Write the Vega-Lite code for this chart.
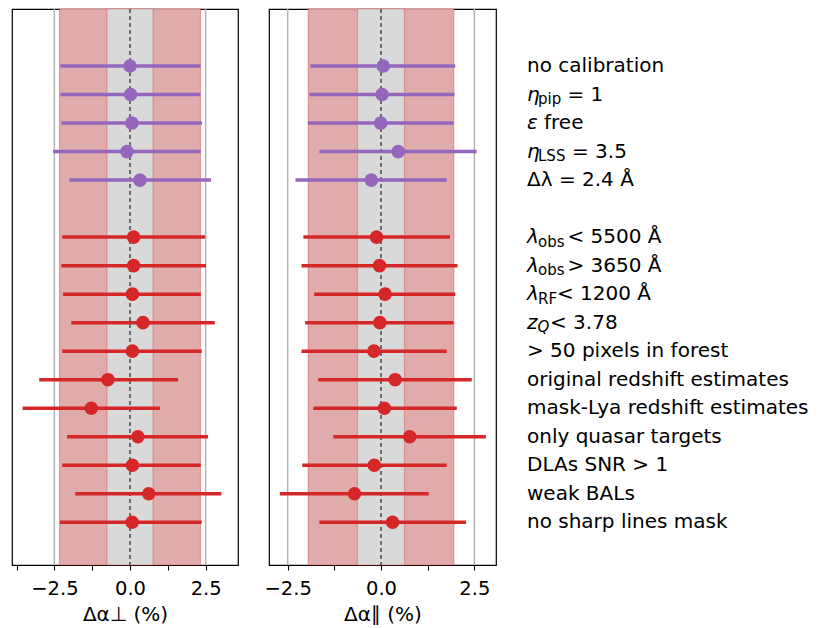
{
  "$schema": "https://vega.github.io/schema/vega-lite/v6.json",
  "padding": {"left": 11, "top": 7, "right": 0, "bottom": 0},
  "background": "white",
  "spacing": 31,
  "bounds": "flush",
  "datasets": {
    "rows": [
      {"label": "no calibration", "kind": "modelling", "plain": "no calibration", "perp": 0.0, "perp_lo": -2.30, "perp_hi": 2.33, "par": 0.06, "par_lo": -1.89, "par_hi": 1.99},
      {"label": "η_pip = 1", "kind": "modelling", "pre": "η", "sub": "pip", "post": "= 1", "perp": 0.02, "perp_lo": -2.30, "perp_hi": 2.33, "par": 0.03, "par_lo": -1.92, "par_hi": 1.97},
      {"label": "ε free", "kind": "modelling", "pre": "ε", "post": "free", "perp": 0.06, "perp_lo": -2.27, "perp_hi": 2.38, "par": -0.01, "par_lo": -1.96, "par_hi": 1.94},
      {"label": "η_LSS = 3.5", "kind": "modelling", "pre": "η", "sub": "LSS", "post": "= 3.5", "perp": -0.10, "perp_lo": -2.54, "perp_hi": 2.34, "par": 0.46, "par_lo": -1.65, "par_hi": 2.56},
      {"label": "Δλ = 2.4 Å", "kind": "modelling", "plain": "Δλ = 2.4 Å", "perp": 0.33, "perp_lo": -2.0, "perp_hi": 2.68, "par": -0.26, "par_lo": -2.29, "par_hi": 1.76},
      {"label": "λ_obs < 5500 Å", "kind": "data", "pre": "λ", "sub": "obs", "post": "< 5500 Å", "perp": 0.12, "perp_lo": -2.24, "perp_hi": 2.48, "par": -0.12, "par_lo": -2.08, "par_hi": 1.85},
      {"label": "λ_obs > 3650 Å", "kind": "data", "pre": "λ", "sub": "obs", "post": "> 3650 Å", "perp": 0.12, "perp_lo": -2.27, "perp_hi": 2.51, "par": -0.04, "par_lo": -2.13, "par_hi": 2.05},
      {"label": "λ_RF < 1200 Å", "kind": "data", "pre": "λ", "sub": "RF", "post": "< 1200 Å", "perp": 0.08, "perp_lo": -2.21, "perp_hi": 2.34, "par": 0.11, "par_lo": -1.79, "par_hi": 1.99},
      {"label": "z_Q < 3.78", "kind": "data", "pre": "z", "sub": "Q", "post": "< 3.78", "perp": 0.43, "perp_lo": -1.94, "perp_hi": 2.80, "par": -0.03, "par_lo": -2.03, "par_hi": 1.94},
      {"label": "> 50 pixels in forest", "kind": "data", "plain": " > 50 pixels in forest", "perp": 0.08, "perp_lo": -2.24, "perp_hi": 2.37, "par": -0.19, "par_lo": -2.13, "par_hi": 1.76},
      {"label": "original redshift estimates", "kind": "data", "plain": "original redshift estimates", "perp": -0.73, "perp_lo": -3.0, "perp_hi": 1.59, "par": 0.38, "par_lo": -1.68, "par_hi": 2.43},
      {"label": "mask-Lya redshift estimates", "kind": "data", "plain": "mask-Lya redshift estimates", "perp": -1.28, "perp_lo": -3.55, "perp_hi": 0.99, "par": 0.09, "par_lo": -1.81, "par_hi": 2.03},
      {"label": "only quasar targets", "kind": "data", "plain": "only quasar targets", "perp": 0.26, "perp_lo": -2.08, "perp_hi": 2.58, "par": 0.77, "par_lo": -1.28, "par_hi": 2.81},
      {"label": "DLAs SNR > 1", "kind": "data", "plain": "DLAs SNR > 1", "perp": 0.08, "perp_lo": -2.24, "perp_hi": 2.34, "par": -0.18, "par_lo": -2.11, "par_hi": 1.76},
      {"label": "weak BALs", "kind": "data", "plain": "weak BALs", "perp": 0.62, "perp_lo": -1.81, "perp_hi": 3.02, "par": -0.71, "par_lo": -2.71, "par_hi": 1.28},
      {"label": "no sharp lines mask", "kind": "data", "plain": "no sharp lines mask", "perp": 0.07, "perp_lo": -2.32, "perp_hi": 2.37, "par": 0.31, "par_lo": -1.65, "par_hi": 2.28}
    ],
    "bands": [
      {"axis": "perp", "band": "outer", "lo": -2.33, "hi": 2.33},
      {"axis": "perp", "band": "inner", "lo": -0.76, "hi": 0.76},
      {"axis": "par", "band": "outer", "lo": -1.95, "hi": 1.95},
      {"axis": "par", "band": "inner", "lo": -0.63, "hi": 0.63}
    ],
    "refs": [
      {"v": -2.5, "line": "bound"},
      {"v": 0, "line": "zero"},
      {"v": 2.5, "line": "bound"}
    ]
  },
  "config": {
    "view": {"stroke": "black", "strokeWidth": 1.2},
    "font": "DejaVu Sans",
    "axis": {
      "labelFont": "DejaVu Sans", "labelFontSize": 19.5, "labelColor": "black",
      "titleFont": "DejaVu Sans", "titleFontSize": 20, "titleFontWeight": "normal", "titleColor": "black",
      "domain": false, "grid": false, "ticks": true, "tickColor": "black", "tickSize": 5, "tickWidth": 1.1,
      "labelPadding": 9, "titlePadding": 7, "labelFlush": false, "labelOverlap": false
    }
  },
  "resolve": {"scale": {"x": "independent", "y": "independent"}},
  "hconcat": [
    {
      "width": 226, "height": 556,
      "layer": [
        {"data": {"name": "bands"}, "transform": [{"filter": "datum.axis === 'perp' && datum.band === 'outer'"}],
         "mark": {"type": "rect", "fill": "#dfabab", "stroke": "#d62728", "strokeOpacity": 0.35, "strokeWidth": 1.2},
         "encoding": {"x": {"field": "lo", "type": "quantitative", "title": "Δα⊥ (%)", "scale": {"domain": [-3.9, 3.57], "zero": false, "nice": false}, "axis": {"values": [-3.75, -2.5, -1.25, 0, 1.25, 2.5], "labelExpr": "abs(datum.value) % 2.5 === 0 ? format(datum.value, '.1f') : ''"}}, "x2": {"field": "hi"}}},
        {"data": {"name": "bands"}, "transform": [{"filter": "datum.axis === 'perp' && datum.band === 'inner'"}],
         "mark": {"type": "rect", "fill": "#d9d9d9", "stroke": "#d62728", "strokeOpacity": 0.3, "strokeWidth": 1.2},
         "encoding": {"x": {"field": "lo", "type": "quantitative", "title": "Δα⊥ (%)", "scale": {"domain": [-3.9, 3.57], "zero": false, "nice": false}}, "x2": {"field": "hi"}}},
        {"data": {"name": "refs"}, "transform": [{"filter": "datum.line === 'bound'"}],
         "mark": {"type": "rule", "color": "#b3b3b3", "strokeWidth": 1.5},
         "encoding": {"x": {"field": "v", "type": "quantitative", "title": "Δα⊥ (%)", "scale": {"domain": [-3.9, 3.57], "zero": false, "nice": false}}}},
        {"data": {"name": "refs"}, "transform": [{"filter": "datum.line === 'zero'"}],
         "mark": {"type": "rule", "color": "#333333", "strokeWidth": 1.3, "strokeDash": [4, 3]},
         "encoding": {"x": {"field": "v", "type": "quantitative", "title": "Δα⊥ (%)", "scale": {"domain": [-3.9, 3.57], "zero": false, "nice": false}}}},
        {"data": {"name": "rows"},
         "mark": {"type": "rule", "strokeWidth": 3.5},
         "encoding": {
           "y": {"field": "label", "type": "nominal", "axis": null, "scale": {"type": "point", "domain": [" ", "no calibration", "η_pip = 1", "ε free", "η_LSS = 3.5", "Δλ = 2.4 Å", "", "λ_obs < 5500 Å", "λ_obs > 3650 Å", "λ_RF < 1200 Å", "z_Q < 3.78", "> 50 pixels in forest", "original redshift estimates", "mask-Lya redshift estimates", "only quasar targets", "DLAs SNR > 1", "weak BALs", "no sharp lines mask", "  "], "padding": 0.75, "align": 0.667}},
           "x": {"field": "perp_lo", "type": "quantitative", "title": "Δα⊥ (%)", "scale": {"domain": [-3.9, 3.57], "zero": false, "nice": false}},
           "x2": {"field": "perp_hi"},
           "color": {"field": "kind", "type": "nominal", "scale": {"domain": ["modelling", "data"], "range": ["#9467bd", "#d62728"]}, "legend": null}}},
        {"data": {"name": "rows"},
         "mark": {"type": "point", "filled": true, "size": 185, "opacity": 1},
         "encoding": {
           "y": {"field": "label", "type": "nominal", "axis": null, "scale": {"type": "point", "domain": [" ", "no calibration", "η_pip = 1", "ε free", "η_LSS = 3.5", "Δλ = 2.4 Å", "", "λ_obs < 5500 Å", "λ_obs > 3650 Å", "λ_RF < 1200 Å", "z_Q < 3.78", "> 50 pixels in forest", "original redshift estimates", "mask-Lya redshift estimates", "only quasar targets", "DLAs SNR > 1", "weak BALs", "no sharp lines mask", "  "], "padding": 0.75, "align": 0.667}},
           "x": {"field": "perp", "type": "quantitative", "title": "Δα⊥ (%)", "scale": {"domain": [-3.9, 3.57], "zero": false, "nice": false}},
           "color": {"field": "kind", "type": "nominal", "scale": {"domain": ["modelling", "data"], "range": ["#9467bd", "#d62728"]}, "legend": null}}}
      ]
    },
    {
      "width": 227, "height": 556,
      "layer": [
        {"data": {"name": "bands"}, "transform": [{"filter": "datum.axis === 'par' && datum.band === 'outer'"}],
         "mark": {"type": "rect", "fill": "#dfabab", "stroke": "#d62728", "strokeOpacity": 0.35, "strokeWidth": 1.2},
         "encoding": {"x": {"field": "lo", "type": "quantitative", "title": "Δα∥ (%)", "scale": {"domain": [-3.0, 3.08], "zero": false, "nice": false}, "axis": {"values": [-2.5, -1.25, 0, 1.25, 2.5], "labelExpr": "abs(datum.value) % 2.5 === 0 ? format(datum.value, '.1f') : ''"}}, "x2": {"field": "hi"}}},
        {"data": {"name": "bands"}, "transform": [{"filter": "datum.axis === 'par' && datum.band === 'inner'"}],
         "mark": {"type": "rect", "fill": "#d9d9d9", "stroke": "#d62728", "strokeOpacity": 0.3, "strokeWidth": 1.2},
         "encoding": {"x": {"field": "lo", "type": "quantitative", "title": "Δα∥ (%)", "scale": {"domain": [-3.0, 3.08], "zero": false, "nice": false}}, "x2": {"field": "hi"}}},
        {"data": {"name": "refs"}, "transform": [{"filter": "datum.line === 'bound'"}],
         "mark": {"type": "rule", "color": "#b3b3b3", "strokeWidth": 1.5},
         "encoding": {"x": {"field": "v", "type": "quantitative", "title": "Δα∥ (%)", "scale": {"domain": [-3.0, 3.08], "zero": false, "nice": false}}}},
        {"data": {"name": "refs"}, "transform": [{"filter": "datum.line === 'zero'"}],
         "mark": {"type": "rule", "color": "#333333", "strokeWidth": 1.3, "strokeDash": [4, 3]},
         "encoding": {"x": {"field": "v", "type": "quantitative", "title": "Δα∥ (%)", "scale": {"domain": [-3.0, 3.08], "zero": false, "nice": false}}}},
        {"data": {"name": "rows"},
         "mark": {"type": "rule", "strokeWidth": 3.5},
         "encoding": {
           "y": {"field": "label", "type": "nominal", "axis": null, "scale": {"type": "point", "domain": [" ", "no calibration", "η_pip = 1", "ε free", "η_LSS = 3.5", "Δλ = 2.4 Å", "", "λ_obs < 5500 Å", "λ_obs > 3650 Å", "λ_RF < 1200 Å", "z_Q < 3.78", "> 50 pixels in forest", "original redshift estimates", "mask-Lya redshift estimates", "only quasar targets", "DLAs SNR > 1", "weak BALs", "no sharp lines mask", "  "], "padding": 0.75, "align": 0.667}},
           "x": {"field": "par_lo", "type": "quantitative", "title": "Δα∥ (%)", "scale": {"domain": [-3.0, 3.08], "zero": false, "nice": false}},
           "x2": {"field": "par_hi"},
           "color": {"field": "kind", "type": "nominal", "scale": {"domain": ["modelling", "data"], "range": ["#9467bd", "#d62728"]}, "legend": null}}},
        {"data": {"name": "rows"},
         "mark": {"type": "point", "filled": true, "size": 185, "opacity": 1},
         "encoding": {
           "y": {"field": "label", "type": "nominal", "axis": null, "scale": {"type": "point", "domain": [" ", "no calibration", "η_pip = 1", "ε free", "η_LSS = 3.5", "Δλ = 2.4 Å", "", "λ_obs < 5500 Å", "λ_obs > 3650 Å", "λ_RF < 1200 Å", "z_Q < 3.78", "> 50 pixels in forest", "original redshift estimates", "mask-Lya redshift estimates", "only quasar targets", "DLAs SNR > 1", "weak BALs", "no sharp lines mask", "  "], "padding": 0.75, "align": 0.667}},
           "x": {"field": "par", "type": "quantitative", "title": "Δα∥ (%)", "scale": {"domain": [-3.0, 3.08], "zero": false, "nice": false}},
           "color": {"field": "kind", "type": "nominal", "scale": {"domain": ["modelling", "data"], "range": ["#9467bd", "#d62728"]}, "legend": null}}}
      ]
    },
    {
      "width": 290, "height": 556,
      "view": {"stroke": null},
      "data": {"name": "rows"},
      "encoding": {
        "y": {"field": "label", "type": "nominal", "axis": null, "scale": {"type": "point", "domain": [" ", "no calibration", "η_pip = 1", "ε free", "η_LSS = 3.5", "Δλ = 2.4 Å", "", "λ_obs < 5500 Å", "λ_obs > 3650 Å", "λ_RF < 1200 Å", "z_Q < 3.78", "> 50 pixels in forest", "original redshift estimates", "mask-Lya redshift estimates", "only quasar targets", "DLAs SNR > 1", "weak BALs", "no sharp lines mask", "  "], "padding": 0.75, "align": 0.667}},
        "x": {"datum": 0, "type": "quantitative", "scale": {"domain": [0, 1]}, "axis": null}
      },
      "layer": [
        {"transform": [{"filter": "datum.plain != null"}],
         "mark": {"type": "text", "align": "left", "baseline": "middle", "fontSize": 20, "font": "DejaVu Sans", "color": "black"},
         "encoding": {"text": {"field": "plain"}}},
        {"transform": [{"filter": "datum.pre != null"}],
         "mark": {"type": "text", "align": "left", "baseline": "middle", "fontSize": 20, "font": "DejaVu Sans", "fontStyle": "italic", "color": "black"},
         "encoding": {"text": {"field": "pre"}}},
        {"transform": [{"filter": "datum.sub != null && datum.pre !== 'z'"}],
         "mark": {"type": "text", "align": "left", "baseline": "middle", "fontSize": 15, "font": "DejaVu Sans", "color": "black", "dx": 11, "dy": 4.5},
         "encoding": {"text": {"field": "sub"}}},
        {"transform": [{"filter": "datum.pre === 'z'"}],
         "mark": {"type": "text", "align": "left", "baseline": "middle", "fontSize": 15, "font": "DejaVu Sans", "fontStyle": "italic", "color": "black", "dx": 10.5, "dy": 4.5},
         "encoding": {"text": {"field": "sub"}}},
        {"transform": [{"filter": "datum.pre === 'ε'"}],
         "mark": {"type": "text", "align": "left", "baseline": "middle", "fontSize": 20, "font": "DejaVu Sans", "color": "black", "dx": 17},
         "encoding": {"text": {"field": "post"}}},
        {"transform": [{"filter": "datum.pre === 'z'"}],
         "mark": {"type": "text", "align": "left", "baseline": "middle", "fontSize": 20, "font": "DejaVu Sans", "color": "black", "dx": 23},
         "encoding": {"text": {"field": "post"}}},
        {"transform": [{"filter": "datum.sub === 'RF'"}],
         "mark": {"type": "text", "align": "left", "baseline": "middle", "fontSize": 20, "font": "DejaVu Sans", "color": "black", "dx": 30},
         "encoding": {"text": {"field": "post"}}},
        {"transform": [{"filter": "datum.sub === 'pip' || datum.sub === 'obs'"}],
         "mark": {"type": "text", "align": "left", "baseline": "middle", "fontSize": 20, "font": "DejaVu Sans", "color": "black", "dx": 40.5},
         "encoding": {"text": {"field": "post"}}},
        {"transform": [{"filter": "datum.sub === 'LSS'"}],
         "mark": {"type": "text", "align": "left", "baseline": "middle", "fontSize": 20, "font": "DejaVu Sans", "color": "black", "dx": 45},
         "encoding": {"text": {"field": "post"}}}
      ]
    }
  ]
}
